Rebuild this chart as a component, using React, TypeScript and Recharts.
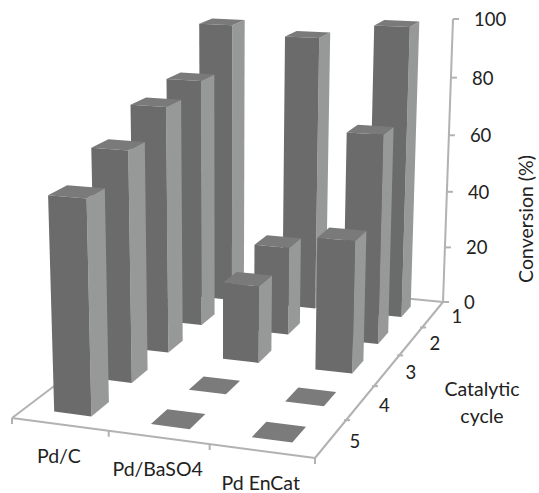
import { BarChart, Bar, XAxis, YAxis } from 'recharts';

const catalysts = ['Pd/C', 'Pd/BaSO4', 'Pd EnCat'];
const cycles = ['1', '2', '3', '4', '5'];
const cycle1 = [98, 95, 100];
const cycle2 = [84, 30, 70];
const cycle3 = [81, 25.5, 43];
const cycle4 = [73.5, 0, 0];
const cycle5 = [66, 0, 0];
const cycleValues = [cycle1, cycle2, cycle3, cycle4, cycle5];
const valueTicks = [0, 20, 40, 60, 80, 100];

const tableRows = catalysts.map((name, i) => {
  const row: Record<string, string | number> = { name };
  cycles.forEach((c, j) => {
    row[`c${c}`] = cycleValues[j][i];
  });
  return row;
});

const W = 539;
const H = 493;
const PLOT_TOP = 19;
const PLOT_BOTTOM = 302;
const PLOT_H = PLOT_BOTTOM - PLOT_TOP;
const BAR_PX = 70;
const DEPTH = 0.42;
const FONT = 'Lato, "Open Sans", sans-serif';
const AXIS = '#b2b2b2';
const INK = '#222222';
const LABEL_SIZE = 19.5;
const TICK_SIZE = 18.5;

// floor corners of the 3d box
const [x0, y0] = [197, 278]; // back left
const [x1, y1] = [443, 302]; // back right
const [x2, y2] = [315, 458]; // front right
const [x3, y3] = [12, 418]; // front left
const den = (x1 - x2) * (y3 - y2) - (x3 - x2) * (y1 - y2);
const sx = x0 - x1 + x2 - x3;
const sy = y0 - y1 + y2 - y3;
const g = (sx * (y3 - y2) - (x3 - x2) * sy) / den;
const h = ((x1 - x2) * sy - sx * (y1 - y2)) / den;
const a = x1 - x0 + g * x1;
const b = x3 - x0 + h * x3;
const d = y1 - y0 + g * y1;
const e = y3 - y0 + h * y3;
// vertical vanishing point, verticals lean together downwards
const VX = 224;
const VY = 6500;
const TOP_Y = 19;
const W10 = g + 1;
const k = (W10 * (TOP_Y - y1)) / (VY - TOP_Y);

const project = (u: number, v: number, w: number): [number, number] => {
  const q = g * u + h * v + 1 + k * w;
  return [(a * u + b * v + x0 + VX * k * w) / q, (d * u + e * v + y0 + VY * k * w) / q];
};

const poly = (pts: [number, number][]) => pts.map((p) => `${p[0].toFixed(1)},${p[1].toFixed(1)}`).join(' ');

const Block = (props: any) => {
  const { x, width, height, cycle } = props;
  const u0 = x / W;
  const u1 = (x + width) / W;
  const v0 = (cycle + 0.5 - DEPTH / 2) / cycles.length;
  const v1 = (cycle + 0.5 + DEPTH / 2) / cycles.length;
  const w = (height || 0) / PLOT_H;
  if (w === 0) {
    return <polygon points={poly([project(u0, v0, 0), project(u1, v0, 0), project(u1, v1, 0), project(u0, v1, 0)])} fill="#7b7b7b" />;
  }
  return (
    <g>
      <polygon points={poly([project(u1, v1, 0), project(u1, v0, 0), project(u1, v0, w), project(u1, v1, w)])} fill="#979999" />
      <polygon points={poly([project(u0, v0, w), project(u1, v0, w), project(u1, v1, w), project(u0, v1, w)])} fill="#7a7a7a" />
      <polygon points={poly([project(u0, v1, 0), project(u1, v1, 0), project(u1, v1, w), project(u0, v1, w)])} fill="#6b6b6b" />
    </g>
  );
};

const ValueTick = (props: any) => {
  const w = (PLOT_BOTTOM - props.y) / PLOT_H;
  const [px, py] = project(1, 0, w);
  return (
    <g>
      <line x1={px} y1={py} x2={px + 6} y2={py} stroke={AXIS} strokeWidth={2} />
      <text x={px + 21} y={py + 7} fontFamily={FONT} fontSize={TICK_SIZE} fill={INK}>
        {props.payload.value}
      </text>
    </g>
  );
};

const CatalystTick = (props: any) => {
  const i = props.payload.index;
  const [px, py] = project((i + 0.5) / catalysts.length, 1, 0);
  return (
    <text x={px - 1} y={py + 39} textAnchor="middle" fontFamily={FONT} fontSize={LABEL_SIZE} fill={INK}>
      {props.payload.value}
    </text>
  );
};

const Frame = () => {
  const line = (p: [number, number], q: [number, number], key: string) => (
    <line key={key} x1={p[0]} y1={p[1]} x2={q[0]} y2={q[1]} stroke={AXIS} strokeWidth={2} />
  );
  return (
    <g>
      {line(project(0, 0, 0), project(1, 0, 0), 'back')}
      {line(project(0, 0, 0), project(0, 1, 0), 'left')}
      {line(project(0, 1, 0), project(1, 1, 0), 'front')}
      {line(project(1, 0, 0), project(1, 1, 0), 'right')}
      {line(project(1, 0, 0), project(1, 0, 1), 'up')}
      {[0, 1, 2, 3].map((i) => {
        const p = project(i / catalysts.length, 1, 0);
        return line(p, [p[0], p[1] + 6], `ct${i}`);
      })}
      {[1, 2, 3, 4].map((i) => {
        const p = project(1, i / cycles.length, 0);
        return line([p[0] - 2, p[1]], [p[0] + 4, p[1]], `cy${i}`);
      })}
      {cycles.map((c, i) => {
        const p = project(1, (i + 0.5) / cycles.length, 0);
        return (
          <text key={c} x={p[0] + 24} y={p[1] + 9} textAnchor="middle" fontFamily={FONT} fontSize={TICK_SIZE} fill={INK}>
            {c}
          </text>
        );
      })}
      <text x={482} y={396} textAnchor="middle" fontFamily={FONT} fontSize={LABEL_SIZE} fill={INK}>Catalytic</text>
      <text x={482} y={423} textAnchor="middle" fontFamily={FONT} fontSize={LABEL_SIZE} fill={INK}>cycle</text>
      <text transform="translate(533,219) rotate(-90)" textAnchor="middle" fontFamily={FONT} fontSize={LABEL_SIZE} fill={INK}>Conversion (%)</text>
    </g>
  );
};

export default function App() {
  return (
    <div style={{ position: 'absolute', left: 0, top: 0, width: W, height: H }}>
      <BarChart
        width={W}
        height={H}
        data={tableRows}
        margin={{ top: PLOT_TOP, right: 0, bottom: H - PLOT_BOTTOM - 1, left: -1 }}
        barSize={BAR_PX}
        barGap={-BAR_PX}
      >
        <XAxis dataKey="name" height={1} axisLine={false} tickLine={false} tick={<CatalystTick />} interval={0} />
        <YAxis width={1} domain={[0, 100]} ticks={valueTicks} axisLine={false} tickLine={false} tick={<ValueTick />} />
        <Frame />
        {cycles.map((c, j) => (
          <Bar key={c} dataKey={`c${c}`} isAnimationActive={false} shape={(p: any) => <Block {...p} cycle={j} />} />
        ))}
      </BarChart>
    </div>
  );
}
